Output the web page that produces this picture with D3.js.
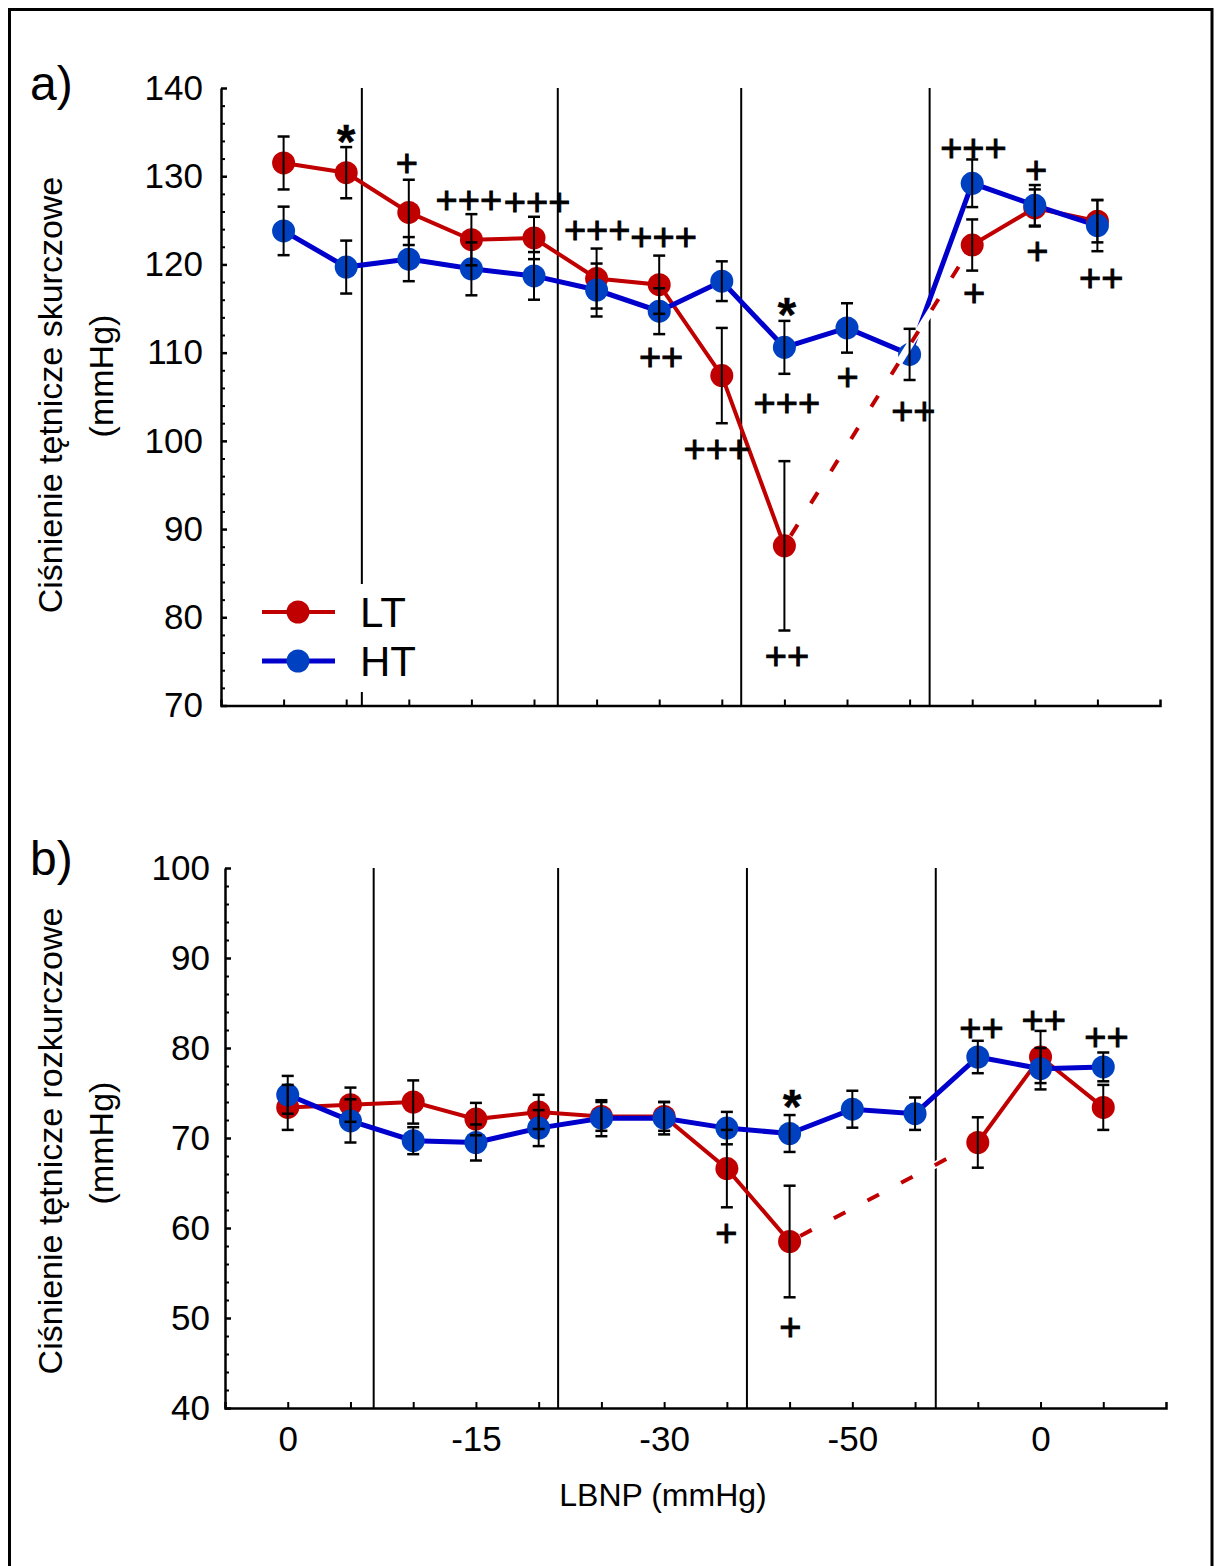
<!DOCTYPE html>
<html><head><meta charset="utf-8">
<script src="https://cdn.jsdelivr.net/npm/d3@7"></script>
<style>
body{margin:0;background:#fff}
text{font-family:"Liberation Sans",Arial,sans-serif;fill:#000}
</style>
</head><body>
<svg id="c" width="1217" height="1566"></svg>
<script>
// ---------- data ----------
const indices = d3.range(14);
const xTickLabels = ["0","","","-15","","","-30","","","-50","","","0",""];
const seriesNames = ["LT","HT"];

// a) systolic
const sysLT    = [131.5,130.4,125.9,122.8,123.0,118.4,117.7,107.4,88.1,null,null,122.2,126.4,124.9];
const sysLTerr = [3.0,2.9,3.7,2.9,2.4,3.4,3.3,5.4,9.6,null,null,2.9,2.1,2.4];
const sysHT    = [123.8,119.7,120.6,119.5,118.7,117.1,114.7,118.1,110.6,112.8,109.8,129.2,126.7,124.4];
const sysHTerr = [2.75,3.0,2.5,3.0,2.7,3.0,2.6,2.25,3.0,2.8,2.9,2.7,2.3,2.9];
const sysPhases = [1.25,4.38,7.31,10.32];
const sysAnnot = [
  {i:1.0,v:135.2,t:"*"},{i:1.97,v:131.5,t:"+"},{i:2.96,v:127.3,t:"+++"},{i:4.05,v:127.1,t:"+++"},
  {i:5.01,v:124.0,t:"+++"},{i:6.07,v:123.1,t:"+++"},{i:6.03,v:109.6,t:"++"},{i:6.92,v:99.1,t:"+++"},
  {i:8.04,v:115.6,t:"*"},{i:8.04,v:104.3,t:"+++"},{i:8.04,v:75.7,t:"++"},{i:9.01,v:107.3,t:"+"},
  {i:10.06,v:103.4,t:"++"},{i:11.02,v:133.2,t:"+++"},{i:11.03,v:116.8,t:"+"},{i:12.02,v:130.8,t:"+"},
  {i:12.04,v:121.6,t:"+"},{i:13.06,v:118.5,t:"++"}
];

// b) diastolic
const diaLT    = [73.4,73.7,74.0,72.1,72.9,72.4,72.4,66.6,58.5,null,null,69.5,79.0,73.4];
const diaLTerr = [2.5,1.9,2.4,1.8,1.9,1.6,1.6,4.3,6.2,null,null,2.8,2.9,2.5];
const diaHT    = [74.8,71.9,69.7,69.5,71.1,72.2,72.2,71.1,70.5,73.2,72.7,79.0,77.7,77.9];
const diaHTerr = [2.1,2.4,1.5,2.0,2.0,2.0,1.8,1.8,2.05,2.05,1.8,1.8,2.3,1.6];
const diaPhases = [1.37,4.31,7.32,10.33];
const diaAnnot = [
  {i:6.99,v:59.5,t:"+"},{i:8.04,v:74.8,t:"*"},{i:8.01,v:49.1,t:"+"},
  {i:11.06,v:82.3,t:"++"},{i:12.05,v:83.2,t:"++"},{i:13.05,v:81.3,t:"++"}
];

// ---------- drawing ----------
const RED = "#C00000", BLUE_LINE = "#0000CC", BLUE_DOT = "#0041C2";
const svg = d3.select("#c");
svg.append("rect").attr("x",9.5).attr("y",9.5).attr("width",1202.5).attr("height",1600)
  .attr("fill","none").attr("stroke","#000").attr("stroke-width",3);

function panel(cfg){
  const x = d3.scaleLinear().domain([-1,14]).range(cfg.xr);
  const y = d3.scaleLinear().domain(cfg.yd).range(cfg.yr);
  const g = svg.append("g");
  const x0 = x(-1), yb = y(cfg.yd[0]), yt = y(cfg.yd[1]);

  // phase separators
  g.selectAll(".ph").data(cfg.phases).join("line")
    .attr("x1",d=>x(d)).attr("x2",d=>x(d)).attr("y1",yt).attr("y2",yb)
    .attr("stroke","#000").attr("stroke-width",2);

  // legend background (covers separator)
  if(cfg.legend){
    g.append("rect").attr("x",250).attr("y",584).attr("width",190).attr("height",108).attr("fill","#fff");
  }

  // y axis (major + minor, inward ticks)
  const yMajor = d3.range(cfg.yd[0], cfg.yd[1]+0.01, 10);
  const yMinor = d3.range(cfg.yd[0], cfg.yd[1]+0.01, 2).filter(v=>!yMajor.includes(v));
  const ya = g.append("g").attr("transform",`translate(${x0},0)`)
    .call(d3.axisRight(y).tickValues(yMajor).tickSize(6).tickSizeOuter(0).tickFormat(""));
  ya.select(".domain").attr("stroke-width",2.5);
  ya.selectAll(".tick line").attr("stroke-width",2.5);
  const ym = g.append("g").attr("transform",`translate(${x0},0)`)
    .call(d3.axisRight(y).tickValues(yMinor).tickSize(4).tickFormat(""));
  ym.select(".domain").remove();
  ym.selectAll(".tick line").attr("stroke-width",2);
  const yl = g.append("g").attr("transform",`translate(${x0},0)`)
    .call(d3.axisLeft(y).tickValues(yMajor).tickSize(0).tickPadding(cfg.ypad));
  yl.select(".domain").remove();
  yl.selectAll("text").attr("font-size",35).attr("font-family","Liberation Sans, Arial, sans-serif").attr("fill","#000");

  // x axis (ticks inward)
  const xa = g.append("g").attr("transform",`translate(0,${yb})`)
    .call(d3.axisTop(x).tickValues(indices).tickSize(6).tickSizeOuter(6).tickFormat(""));
  xa.select(".domain").attr("stroke-width",2.5);
  xa.selectAll(".tick line").attr("stroke-width",2);
  if(cfg.xlabels){
    const xl = g.append("g").attr("transform",`translate(0,${yb})`)
      .call(d3.axisBottom(x).tickValues(indices).tickSize(0).tickPadding(18).tickFormat(i=>xTickLabels[i]));
    xl.select(".domain").remove();
    xl.selectAll("text").attr("font-size",35).attr("font-family","Liberation Sans, Arial, sans-serif").attr("fill","#000");
  }

  const lt = indices.map(i=>({i, v:cfg.lt[i], e:cfg.lte[i]}));
  const ht = indices.map(i=>({i, v:cfg.ht[i], e:cfg.hte[i]}));
  const line = d3.line().defined(d=>d.v!=null).x(d=>x(d.i)).y(d=>y(d.v));

  g.append("path").datum(lt).attr("d",line).attr("fill","none").attr("stroke",RED).attr("stroke-width",4);
  g.append("path").datum(ht).attr("d",line).attr("fill","none").attr("stroke",BLUE_LINE).attr("stroke-width",5);
  g.selectAll(".dl").data(lt.filter(d=>d.v!=null)).join("circle")
    .attr("cx",d=>x(d.i)).attr("cy",d=>y(d.v)).attr("r",11.5).attr("fill",RED);
  g.selectAll(".dh").data(ht).join("circle")
    .attr("cx",d=>x(d.i)).attr("cy",d=>y(d.v)).attr("r",11.5).attr("fill",BLUE_DOT);

  // dashed bridge for LT over missing points
  const pA = lt[8], pB = lt[11];
  const ax = x(pA.i), ay = y(pA.v), bx = x(pB.i), by = y(pB.v);
  const L = Math.hypot(bx-ax, by-ay), ux=(bx-ax)/L, uy=(by-ay)/L, r=12;
  g.append("line").attr("x1",ax+ux*r).attr("y1",ay+uy*r).attr("x2",bx-ux*r).attr("y2",by-uy*r)
    .attr("stroke","#fff").attr("stroke-width",7);
  g.append("line").attr("x1",ax+ux*r).attr("y1",ay+uy*r).attr("x2",bx-ux*r).attr("y2",by-uy*r)
    .attr("stroke",RED).attr("stroke-width",4).attr("stroke-dasharray","13,25");

  // error bars
  const eb = lt.concat(ht).filter(d=>d.v!=null);
  eb.forEach(d=>{
    const cx = x(d.i), y1 = y(d.v+d.e), y2 = y(d.v-d.e);
    g.append("line").attr("x1",cx).attr("x2",cx).attr("y1",y1).attr("y2",y2).attr("stroke","#000").attr("stroke-width",2);
    [y1,y2].forEach(yy=>g.append("line").attr("x1",cx-6).attr("x2",cx+6).attr("y1",yy).attr("y2",yy).attr("stroke","#000").attr("stroke-width",2.5));
  });

  // significance marks
  cfg.annot.forEach(a=>{
    const star = a.t==="*";
    const fs = star?48:38;
    g.append("text").attr("x",x(a.i)).attr("y",y(a.v)+(star?0.58*fs:0.353*fs))
      .attr("text-anchor","middle").attr("font-size",fs).attr("font-weight",star?"bold":"normal")
      .attr("stroke","#000").attr("stroke-width",star?0.3:0.9).text(a.t);
  });

  // legend
  if(cfg.legend){
    const items=[{n:seriesNames[0],c:RED,d:RED,y:612,w:4},{n:seriesNames[1],c:BLUE_LINE,d:BLUE_DOT,y:661,w:5}];
    items.forEach(it=>{
      g.append("line").attr("x1",262).attr("x2",335).attr("y1",it.y).attr("y2",it.y).attr("stroke",it.c).attr("stroke-width",it.w);
      g.append("circle").attr("cx",298).attr("cy",it.y).attr("r",11.5).attr("fill",it.d);
      g.append("text").attr("x",360).attr("y",it.y+15).attr("font-size",42).text(it.n);
    });
  }

  // panel letter
  svg.append("text").attr("x",30).attr("y",cfg.letterY).attr("font-size",48).text(cfg.letter);
  // y title
  const tg = svg.append("g");
  tg.append("text").attr("transform",`translate(62,${cfg.t1y}) rotate(-90)`).attr("text-anchor","middle")
    .attr("font-size",34).text(cfg.title);
  tg.append("text").attr("transform",`translate(113,${cfg.t2y}) rotate(-90)`).attr("text-anchor","middle")
    .attr("font-size",34).text("(mmHg)");
  return {x,y};
}

panel({xr:[221,1160], yd:[70,140], yr:[705.5,88], phases:sysPhases,
  lt:sysLT, lte:sysLTerr, ht:sysHT, hte:sysHTerr, annot:sysAnnot,
  legend:true, xlabels:false, ypad:18, letter:"a)", letterY:100,
  title:"Ciśnienie tętnicze skurczowe", t1y:395, t2y:376});

panel({xr:[225,1166], yd:[40,100], yr:[1408,868], phases:diaPhases,
  lt:diaLT, lte:diaLTerr, ht:diaHT, hte:diaHTerr, annot:diaAnnot,
  legend:false, xlabels:true, ypad:15, letter:"b)", letterY:875,
  title:"Ciśnienie tętnicze rozkurczowe", t1y:1141, t2y:1143});

svg.append("text").attr("x",663).attr("y",1506).attr("text-anchor","middle").attr("font-size",32).text("LBNP (mmHg)");
</script>
</body></html>
